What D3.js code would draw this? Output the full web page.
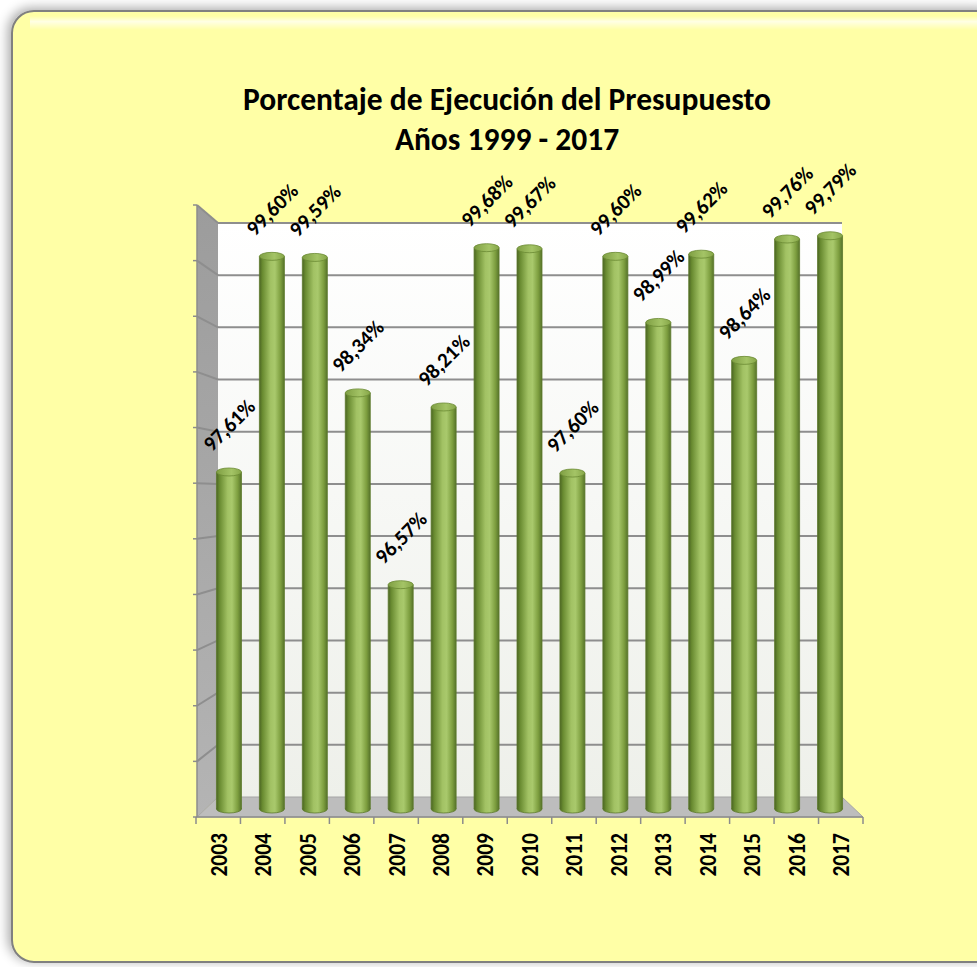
<!DOCTYPE html>
<html>
<head>
<meta charset="utf-8">
<script src="https://cdn.jsdelivr.net/npm/d3@7"></script>
<style>
  body { margin: 0; background: #ffffff; }
  text { font-family: Carlito, Lato, "Open Sans", sans-serif; font-weight: bold; fill: #000; }
</style>
</head>
<body>
<svg></svg>
<script>
// data
const years = ["2003", "2004", "2005", "2006", "2007", "2008", "2009", "2010",
               "2011", "2012", "2013", "2014", "2015", "2016", "2017"];
const values = [97.61, 99.60, 99.59, 98.34, 96.57, 98.21, 99.68, 99.67,
                97.60, 99.60, 98.99, 99.62, 98.64, 99.76, 99.79];
const titleLines = ["Porcentaje de Ejecución del Presupuesto", "Años 1999 - 2017"];
const yDomain = [94.5, 100];

function drawChart() {
    const svgWidth = 977, svgHeight = 967;
    const svg = d3.select("svg").attr("width", svgWidth).attr("height", svgHeight);
    const defs = svg.append("defs");

    // page shadow + yellow panel
    const sh = defs.append("filter").attr("id", "shadow").attr("x", "-5%").attr("y", "-5%").attr("width", "110%").attr("height", "110%");
    sh.append("feGaussianBlur").attr("in", "SourceAlpha").attr("stdDeviation", 6);
    sh.append("feOffset").attr("dx", -3).attr("dy", -2).attr("result", "b");
    sh.append("feComponentTransfer").append("feFuncA").attr("type", "linear").attr("slope", 0.35);
    const m = sh.append("feMerge");
    m.append("feMergeNode");
    m.append("feMergeNode").attr("in", "SourceGraphic");

    svg.append("rect")
        .attr("x", 12).attr("y", 11).attr("width", 990).attr("height", 951)
        .attr("rx", 22)
        .attr("fill", "#ffffa6")
        .attr("stroke", "#808080").attr("stroke-width", 2)
        .attr("filter", "url(#shadow)");

    // soft highlight along the top edge of the panel
    const gGlow = defs.append("linearGradient").attr("id", "glow").attr("x1", 0).attr("y1", 0).attr("x2", 0).attr("y2", 1);
    gGlow.append("stop").attr("offset", 0).attr("stop-color", "#ffffff").attr("stop-opacity", 0.0);
    gGlow.append("stop").attr("offset", 0.4).attr("stop-color", "#ffffff").attr("stop-opacity", 0.7);
    gGlow.append("stop").attr("offset", 1).attr("stop-color", "#ffffff").attr("stop-opacity", 0);
    svg.append("rect")
        .attr("x", 30).attr("y", 16).attr("width", 960).attr("height", 14)
        .attr("fill", "url(#glow)");

    // title
    svg.append("text")
        .attr("x", 507).attr("y", 110)
        .attr("text-anchor", "middle")
        .attr("font-size", 31.5)
        .selectAll("tspan").data(titleLines).join("tspan")
        .attr("x", 507).attr("dy", (d, i) => i === 0 ? 0 : 40)
        .text(d => d);

    // scales
    const xCat = d3.scaleBand().domain(years).range([196, 863]);
    const xBar = d3.scaleBand().domain(years).range([207.5, 851.5]);
    const yBack = d3.scaleLinear().domain(yDomain).range([797, 223]);
    const yFront = d3.scaleLinear().domain(yDomain).range([817, 205]);
    const yBar = d3.scaleLinear().domain(yDomain).range([809, 213]);
    const ticks = yBack.ticks(11);

    const backL = 218, backR = 842, frontL = 197, frontR = 863;

    // gradients
    const gWall = defs.append("linearGradient").attr("id", "wall").attr("x1", 0).attr("y1", 0).attr("x2", 0).attr("y2", 1);
    gWall.append("stop").attr("offset", 0).attr("stop-color", "#ffffff");
    gWall.append("stop").attr("offset", 1).attr("stop-color", "#eef0ea");

    const gSide = defs.append("linearGradient").attr("id", "side").attr("x1", 0).attr("y1", 0).attr("x2", 0).attr("y2", 1);
    gSide.append("stop").attr("offset", 0).attr("stop-color", "#9c9c9c");
    gSide.append("stop").attr("offset", 1).attr("stop-color", "#b4b4b4");

    const gBar = defs.append("linearGradient").attr("id", "bar").attr("x1", 0).attr("y1", 0).attr("x2", 1).attr("y2", 0);
    [[0, "#4b6523"], [0.12, "#688a30"], [0.45, "#a2c264"], [0.62, "#a9c96c"], [0.85, "#7d9e3f"], [1, "#56732a"]]
        .forEach(s => gBar.append("stop").attr("offset", s[0]).attr("stop-color", s[1]));

    const gTop = defs.append("linearGradient").attr("id", "bartop").attr("x1", 0).attr("y1", 0).attr("x2", 1).attr("y2", 0);
    gTop.append("stop").attr("offset", 0).attr("stop-color", "#7f9f43");
    gTop.append("stop").attr("offset", 0.6).attr("stop-color", "#a4c466");
    gTop.append("stop").attr("offset", 1).attr("stop-color", "#86a648");

    const plot = svg.append("g");

    // back wall
    plot.append("rect")
        .attr("x", backL).attr("y", yBack(yDomain[1]))
        .attr("width", backR - backL).attr("height", yBack(yDomain[0]) - yBack(yDomain[1]))
        .attr("fill", "url(#wall)");

    // side wall
    plot.append("polygon")
        .attr("points", [[frontL, yFront(yDomain[1])], [backL, yBack(yDomain[1])],
                         [backL, yBack(yDomain[0])], [frontL, yFront(yDomain[0])]].join(" "))
        .attr("fill", "url(#side)");

    // floor
    plot.append("polygon")
        .attr("points", [[frontL, yFront(yDomain[0])], [backL, yBack(yDomain[0])],
                         [backR, yBack(yDomain[0])], [frontR, yFront(yDomain[0])]].join(" "))
        .attr("fill", "#bdbdbd")
        .attr("stroke", "#a6a6a6").attr("stroke-width", 1);

    // gridlines on back and side walls
    const grid = plot.append("g")
        .attr("stroke", "#8e8e8e").attr("stroke-width", 2).attr("fill", "none");
    grid.selectAll("line.back").data(ticks.slice(1)).join("line")
        .attr("class", "back")
        .attr("x1", backL).attr("x2", backR)
        .attr("y1", d => yBack(d)).attr("y2", d => yBack(d));
    grid.selectAll("line.side").data(ticks.slice(1)).join("line")
        .attr("class", "side")
        .attr("x1", frontL).attr("x2", backL)
        .attr("y1", d => yFront(d)).attr("y2", d => yBack(d));

    // left axis line + ticks
    const axis = plot.append("g").attr("stroke", "#8c8c8c").attr("stroke-width", 1.5);
    axis.append("line")
        .attr("x1", frontL).attr("x2", frontL)
        .attr("y1", yFront(yDomain[1])).attr("y2", yFront(yDomain[0]));
    axis.selectAll("line.ytick").data(ticks).join("line")
        .attr("class", "ytick")
        .attr("x1", frontL - 4).attr("x2", frontL)
        .attr("y1", d => yFront(d)).attr("y2", d => yFront(d));

    // bottom axis line + ticks at category edges
    axis.append("line")
        .attr("x1", xCat.range()[0]).attr("x2", xCat.range()[1])
        .attr("y1", yFront(yDomain[0])).attr("y2", yFront(yDomain[0]));
    axis.selectAll("line.xtick").data(years.map(y => xCat(y)).concat([xCat.range()[1]])).join("line")
        .attr("class", "xtick")
        .attr("x1", d => d).attr("x2", d => d)
        .attr("y1", yFront(yDomain[0])).attr("y2", yFront(yDomain[0]) + 7);

    // bars (cylinders)
    const data = years.map((y, i) => ({ year: y, value: values[i] }));
    const barW = 25;
    const ry = 4;
    const bars = plot.selectAll("g.bar").data(data).join("g").attr("class", "bar");

    bars.append("ellipse")
        .attr("cx", d => xBar(d.year) + xBar.bandwidth() / 2)
        .attr("cy", yBar(yDomain[0]))
        .attr("rx", barW / 2).attr("ry", ry)
        .attr("fill", "url(#bar)")
        .attr("stroke", "#5d7a2c").attr("stroke-width", 0.8);

    bars.append("rect")
        .attr("x", d => xBar(d.year) + (xBar.bandwidth() - barW) / 2)
        .attr("y", d => yBar(d.value))
        .attr("width", barW)
        .attr("height", d => yBar(yDomain[0]) - yBar(d.value))
        .attr("fill", "url(#bar)");

    bars.append("line")
        .attr("x1", d => xBar(d.year) + (xBar.bandwidth() - barW) / 2)
        .attr("x2", d => xBar(d.year) + (xBar.bandwidth() - barW) / 2)
        .attr("y1", d => yBar(d.value)).attr("y2", yBar(yDomain[0]))
        .attr("stroke", "#5d7a2c").attr("stroke-width", 0.8);
    bars.append("line")
        .attr("x1", d => xBar(d.year) + (xBar.bandwidth() + barW) / 2)
        .attr("x2", d => xBar(d.year) + (xBar.bandwidth() + barW) / 2)
        .attr("y1", d => yBar(d.value)).attr("y2", yBar(yDomain[0]))
        .attr("stroke", "#5d7a2c").attr("stroke-width", 0.8);

    bars.append("ellipse")
        .attr("cx", d => xBar(d.year) + xBar.bandwidth() / 2)
        .attr("cy", d => yBar(d.value))
        .attr("rx", barW / 2).attr("ry", ry)
        .attr("fill", "url(#bartop)")
        .attr("stroke", "#6b8a34").attr("stroke-width", 0.8);

    // value labels
    const fmt = d3.format(".2f");
    plot.selectAll("text.label").data(data).join("text")
        .attr("class", "label")
        .attr("transform", d => `translate(${xBar(d.year) + xBar.bandwidth() / 2}, ${yBar(d.value) - 47}) rotate(-45)`)
        .attr("text-anchor", "middle")
        .attr("dy", "0.35em")
        .attr("font-size", 21)
        .text(d => fmt(d.value).replace(".", ",") + "%");

    // year labels (slightly widened like the original picture)
    plot.selectAll("text.year").data(years).join("text")
        .attr("class", "year")
        .attr("transform", d => `translate(${xCat(d) + xCat.bandwidth() / 2}, ${yFront(yDomain[0]) + 16}) rotate(-90) scale(1, 1.12)`)
        .attr("text-anchor", "end")
        .attr("dy", "0.35em")
        .attr("font-size", 21.5)
        .text(d => d);
}

// run
drawChart();
</script>
</body>
</html>
